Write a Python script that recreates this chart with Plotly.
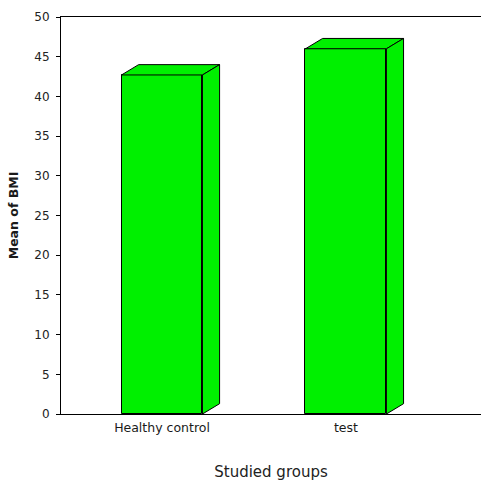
import plotly.graph_objects as go

categories = ["Healthy control", "test"]
values = [42.7, 46.0]
y_ticks = [0, 5, 10, 15, 20, 25, 30, 35, 40, 45, 50]

GREEN = "#00f000"
half_w = 0.22
dx = 0.093
dy = 1.3

fig = go.Figure()
xs = list(range(len(categories)))

fig.add_trace(go.Bar(
    x=xs, y=values, width=2 * half_w,
    marker=dict(color=GREEN, line=dict(color="black", width=1)),
    hoverinfo="skip", showlegend=False,
))

for c, v in zip(xs, values):
    # top face
    fig.add_trace(go.Scatter(
        x=[c - half_w, c - half_w + dx, c + half_w + dx, c + half_w, c - half_w],
        y=[v, v + dy, v + dy, v, v],
        mode="lines", fill="toself", fillcolor=GREEN,
        line=dict(color="black", width=1), hoverinfo="skip", showlegend=False,
    ))
    # side face
    fig.add_trace(go.Scatter(
        x=[c + half_w, c + half_w, c + half_w + dx, c + half_w + dx, c + half_w],
        y=[0, v, v + dy, dy, 0],
        mode="lines", fill="toself", fillcolor=GREEN,
        line=dict(color="black", width=1), hoverinfo="skip", showlegend=False,
    ))

fig.update_layout(
    width=481, height=481,
    margin=dict(l=61, r=0, t=17, b=67),
    paper_bgcolor="white", plot_bgcolor="white",
    font=dict(family="DejaVu Sans, sans-serif", color="#222"),
    bargap=0,
)
fig.update_xaxes(
    range=[-0.549, 1.734],
    tickvals=xs, ticktext=categories,
    tickfont=dict(size=12.5, color="#1a1a1a"),
    showline=True, linecolor="black", linewidth=1, mirror=True,
    showgrid=False, zeroline=False, ticks="",
    ticklabelstandoff=2,
    title=dict(text="Studied groups", font=dict(size=15, color="#222"), standoff=34),
)
fig.update_yaxes(
    range=[0, 50],
    tickvals=y_ticks,
    tickfont=dict(size=12, color="#222"),
    showline=True, linecolor="black", linewidth=1,
    ticks="outside", ticklen=4, tickcolor="black",
    ticklabelstandoff=4,
    showgrid=False, zeroline=False,
    title=dict(text="<b>Mean of BMI</b>", font=dict(size=12.5, color="#1a1a1a"), standoff=12),
)

fig.write_html("out.html", config={"displayModeBar": False})

with open("out.html", "r", encoding="utf-8") as f:
    html = f.read()
html = html.replace("<head>", "<head><style>html,body{margin:0;padding:0;overflow:hidden}</style>", 1)
with open("out.html", "w", encoding="utf-8") as f:
    f.write(html)
